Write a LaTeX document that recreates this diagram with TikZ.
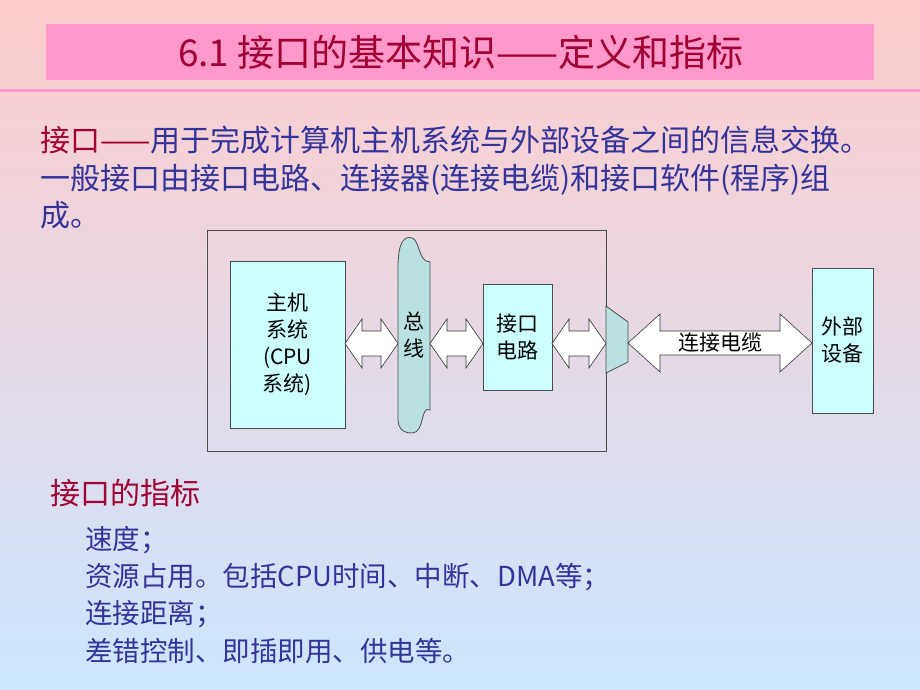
\documentclass[tikz,border=0pt]{standalone}
\usepackage{fontspec}
\setmainfont{Noto Sans CJK SC}
\usepackage{xcolor}
\definecolor{titlered}{RGB}{160,0,50}
\definecolor{textblue}{RGB}{51,51,153}
\definecolor{bandpink}{RGB}{255,153,204}
\definecolor{boxcyan}{RGB}{204,255,255}
\definecolor{busteal}{RGB}{185,225,225}
\definecolor{bgtop}{RGB}{255,204,204}
\definecolor{bgbot}{RGB}{204,230,255}

\tikzset{
  blk/.style={draw=black!70, fill=boxcyan, line width=0.8pt},
  lbl/.style={font=\fontsize{21}{27}\selectfont, align=center, inner sep=0pt},
  txt/.style={anchor=west, inner sep=0pt, font=\fontsize{30}{34}\selectfont, text=textblue},
  item/.style={anchor=west, inner sep=0pt, font=\fontsize{27.5}{31}\selectfont, text=textblue},
  harrow/.style={draw=black!80, fill=white, line width=0.6pt}
}
% double arrow: x1, x2, y, half shaft, half head, head length
\newcommand{\dblarr}[6]{%
  \draw[harrow] (#1,#3) -- (#1+#6,#3-#5) -- (#1+#6,#3-#4) -- (#2-#6,#3-#4)
    -- (#2-#6,#3-#5) -- (#2,#3) -- (#2-#6,#3+#5) -- (#2-#6,#3+#4)
    -- (#1+#6,#3+#4) -- (#1+#6,#3+#5) -- cycle;}

\begin{document}
\begin{tikzpicture}[x=1pt, y=-1pt]
  \shade[top color=bgtop, bottom color=bgbot] (0,0) rectangle (920,690);
  \useasboundingbox (0,0) rectangle (920,690);

  % title
  \fill[bandpink] (46,24) rectangle (874,80);
  \node[inner sep=0pt, text=titlered, font=\fontsize{37}{40}\selectfont] (title) at (461,52) {6.1 接口的基本知识——定义和指标};
  \fill[bandpink] (0,89.5) rectangle (920,92.5);

  % intro text
  \node[txt] (l1) at (40,140) {\textcolor{titlered}{接口——}用于完成计算机主机系统与外部设备之间的信息交换。};
  \node[txt] (l2) at (40,180) {一般接口由接口电路、连接器(连接电缆)和接口软件(程序)组};
  \node[txt] (l3) at (40,215) {成。};

  % diagram
  \draw[black!70, line width=0.8pt] (207,230) rectangle (606,451);
  \node[blk, minimum width=115pt, minimum height=167pt] (host) at (287.5,344.5) {};
  \node[lbl] at (host) {主机\\系统\\(CPU\\系统)};
  \draw[blk, fill=busteal] (398,268) .. controls (398,240) and (405,236) .. (412,238)
    .. controls (420,240) and (418,262) .. (430,262) -- (430,410)
    .. controls (420,405) and (425,433) .. (412,433)
    .. controls (400,433) and (398,425) .. (398,420) -- cycle;
  \coordinate (bus) at (414,335);
  \node[lbl] at (bus) {总\\线};
  \node[blk, minimum width=69pt, minimum height=106pt] (intf) at (517.5,337) {};
  \node[lbl] at (intf) {接口\\电路};
  \draw[blk, fill=busteal] (606,306) -- (628,322) -- (628,362) -- (606,373) -- cycle;
  \coordinate (conn) at (617,340);
  \node[blk, minimum width=61pt, minimum height=145pt] (dev) at (842.5,340.5) {};
  \node[lbl] at (dev) {外部\\设备};

  \dblarr{345}{398}{343.5}{12.5}{24.5}{17}
  \dblarr{430}{483}{343.5}{12.5}{24.5}{17}
  \dblarr{552}{606}{343.5}{12.5}{24.5}{17}
  \dblarr{628}{812}{343}{12}{29}{32}
  \node[lbl] (cable) at (720,343) {连接电缆};

  % indicators
  \node[txt, text=titlered] (head) at (50,493) {接口的指标};
  \node[item] (i1) at (85,540) {速度；};
  \node[item] (i2) at (85,577) {资源占用。包括CPU时间、中断、DMA等；};
  \node[item] (i3) at (85,614) {连接距离；};
  \node[item] (i4) at (85,651) {差错控制、即插即用、供电等。};
\end{tikzpicture}
\end{document}
